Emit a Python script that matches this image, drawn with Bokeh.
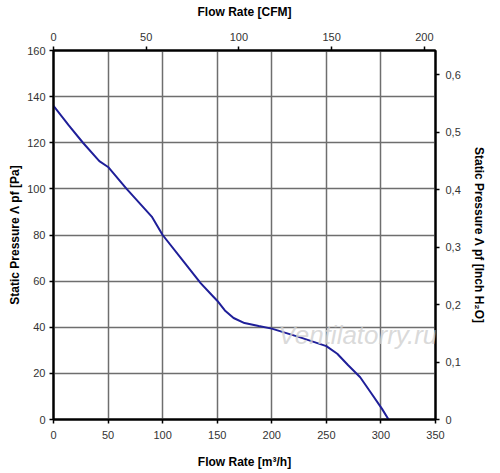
from bokeh.plotting import figure
from bokeh.models import Range1d, LinearAxis, FixedTicker, Label
from bokeh.embed import file_html
from bokeh.resources import INLINE

# Data
flow_m3h = [0, 14, 27, 42, 50, 67, 90, 100, 120, 135, 145, 150, 157, 165, 175,
            188, 200, 226, 250, 260, 270, 281, 291, 301, 307]
pressure_pa = [136, 127.5, 120, 112, 109.5, 100, 88, 80, 68, 59, 54, 51.5, 47.3,
               44, 41.8, 40.5, 39.4, 35.6, 31.8, 28.5, 23.5, 18.3, 11.5, 4.6, 0]

x_ticks = [0, 50, 100, 150, 200, 250, 300, 350]
y_ticks = [0, 20, 40, 60, 80, 100, 120, 140, 160]
cfm_ticks = [0, 50, 100, 150, 200]
inch_ticks = [0, 0.1, 0.2, 0.3, 0.4, 0.5, 0.6]
inch_labels = ["0", "0,1", "0,2", "0,3", "0,4", "0,5", "0,6"]

M3H_PER_CFM = 1.699
PA_PER_INCH = 249.089

FONT = "Liberation Sans"

p = figure(frame_width=382, frame_height=369, output_backend="svg",
           toolbar_location=None,
           x_range=Range1d(0, 350), y_range=Range1d(0, 160),
           x_axis_location=None, y_axis_location=None,
           min_border_left=53, min_border_right=61, min_border_top=50,
           min_border_bottom=51)
p.extra_x_ranges = {"cfm": Range1d(0, 350 / M3H_PER_CFM)}
p.extra_y_ranges = {"inch": Range1d(0, 160 / PA_PER_INCH)}

p.background_fill_color = "white"
p.border_fill_color = "white"
p.outline_line_color = "black"
p.outline_line_width = 2


def style(ax, ticks, label, tick_standoff, label_standoff):
    ax.ticker = FixedTicker(ticks=ticks)
    ax.axis_label = label
    ax.axis_label_text_font = FONT
    ax.axis_label_text_font_style = "bold"
    ax.axis_label_text_font_size = "12px"
    ax.axis_label_text_color = "black"
    ax.axis_label_standoff = label_standoff
    ax.major_label_text_font = FONT
    ax.major_label_text_font_size = "11px"
    ax.major_label_text_color = "#333333"
    ax.major_label_standoff = tick_standoff
    ax.axis_line_color = "black"
    ax.axis_line_width = 2
    ax.major_tick_line_color = "black"
    ax.major_tick_line_width = 1.5
    ax.major_tick_out = 4
    ax.major_tick_in = 0
    ax.minor_tick_line_color = None


bottom = LinearAxis()
style(bottom, x_ticks, "Flow Rate [m³/h]", 7, 13)
p.add_layout(bottom, "below")

left = LinearAxis()
style(left, y_ticks, "Static Pressure Λ pf [Pa]", 4, 2)
p.add_layout(left, "left")

top = LinearAxis(x_range_name="cfm")
style(top, cfm_ticks, "Flow Rate [CFM]", 6, 11)
p.add_layout(top, "above")

right = LinearAxis(y_range_name="inch")
style(right, inch_ticks, "Static Pressure Λ pf [Inch H₂O]", 6, 8)
right.major_label_overrides = {t: s for t, s in zip(inch_ticks, inch_labels)}
p.add_layout(right, "right")

p.xgrid.ticker = FixedTicker(ticks=x_ticks)
p.ygrid.ticker = FixedTicker(ticks=y_ticks)
p.grid.grid_line_color = "#6e6e6e"
p.grid.grid_line_width = 1.5

wm = Label(x=206, y=30, text="Ventilatorry.ru", text_font=FONT,
           text_font_style="italic", text_font_size="26px",
           text_color="#d0d0d0", text_alpha=0.8)
p.add_layout(wm)

p.line(flow_m3h, pressure_pa, line_color="#1f1f99", line_width=2)

open("out.html", "w").write(file_html(p, INLINE))
